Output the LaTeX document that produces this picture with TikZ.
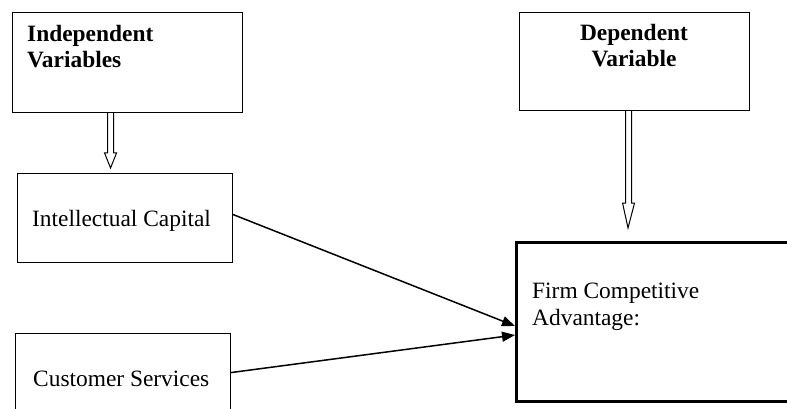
\documentclass[tikz,border=0pt]{standalone}
\usepackage{fontspec}
\setmainfont{Liberation Serif}
\usetikzlibrary{arrows.meta,calc}
\begin{document}
\begin{tikzpicture}[x=1pt,y=-1pt,
  box/.style={draw, line width=1.1pt, inner sep=0pt, anchor=north west},
  thickbox/.style={draw, line width=3pt, inner sep=0pt, anchor=north west},
  txt/.style={inner sep=0pt, font=\fontsize{23.4}{26.5}\selectfont},
  txtb/.style={txt, font=\fontsize{23.4}{26.5}\selectfont\bfseries},
  conn/.style={line width=1.5pt, -{Triangle[length=13pt,width=10pt]}},
  blk/.style={draw, line width=1pt, fill=white, line join=miter}]
\useasboundingbox (0,0) rectangle (787,409);
\clip (0,0) rectangle (787,409);
% boxes
\node[box, minimum width=230pt, minimum height=100pt] (indep) at (12,12) {};
\node[box, minimum width=230pt, minimum height=98pt] (dep) at (519,12) {};
\node[box, minimum width=215pt, minimum height=89pt] (intel) at (17,173) {};
\node[box, minimum width=215pt, minimum height=82pt] (cust) at (15,333) {};
\node[thickbox, minimum width=285pt, minimum height=159pt] (firm) at (515,241) {};
% texts
\node[txtb, anchor=north west, align=left] (indepT) at (27,25) {Independent\\Variables};
\node[txtb, anchor=north, align=center] (depT) at (634,24) {Dependent\\Variable};
\node[txt, anchor=base west] (intelT) at (32,226) {Intellectual Capital};
\node[txt, anchor=base west] (custT) at (33,386) {Customer Services};
\node[txt, anchor=north west, align=left] (firmT) at (532,283) {Firm Competitive\\Advantage:};
% block arrows
\coordinate (iaS) at ([xshift=-17pt]indep.south);
\coordinate (iaT) at ([xshift=-14.5pt,yshift=5pt]intel.north);
\coordinate (daS) at ([xshift=-6pt]dep.south);
\coordinate (daT) at ([xshift=113pt,yshift=13pt]firm.north west);
\draw[blk] let \p1=(iaS), \p2=(iaT) in
  (\x1-3pt,\y1) -- (\x1-3pt,\y2+15pt) -- (\x1-6pt,\y2+15pt) -- (\x2,\y2)
  -- (\x1+6pt,\y2+15pt) -- (\x1+3pt,\y2+15pt) -- (\x1+3pt,\y1);
\draw[blk] let \p1=(daS), \p2=(daT) in
  (\x1-3pt,\y1) -- (\x1-3pt,\y2+25pt) -- (\x1-6pt,\y2+25pt) -- (\x2,\y2)
  -- (\x1+6pt,\y2+25pt) -- (\x1+3pt,\y2+25pt) -- (\x1+3pt,\y1);
% connectors
\draw[conn] ([yshift=3.5pt]intel.east) -- ([yshift=-4pt]firm.west);
\draw[conn] ([yshift=2pt]cust.east) -- ([yshift=-13pt]firm.west);
\end{tikzpicture}
\end{document}
